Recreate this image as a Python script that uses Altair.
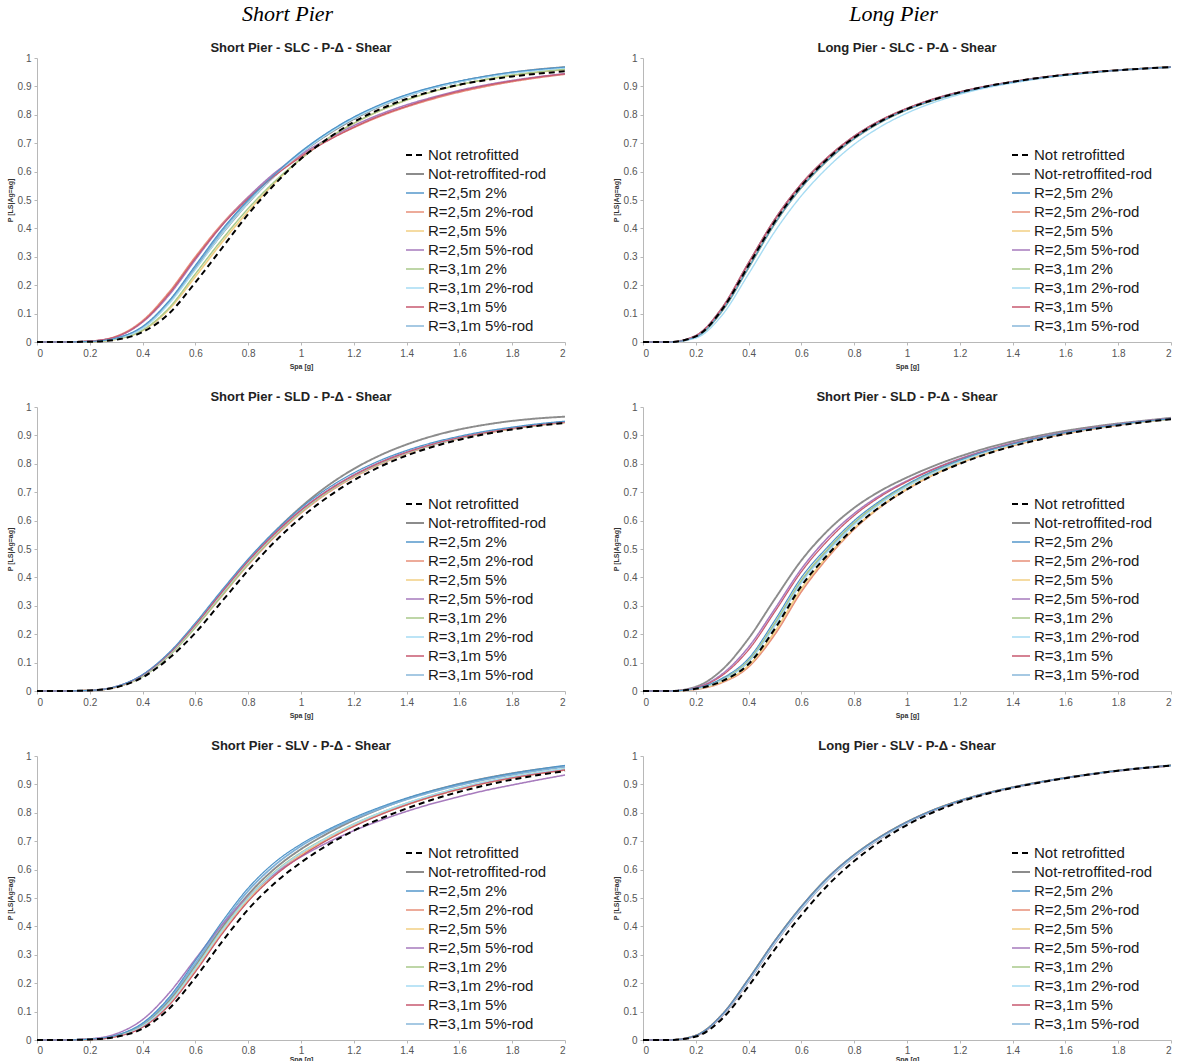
import altair as alt
import pandas as pd

X = [0.0, 0.1, 0.2, 0.3, 0.4, 0.5, 0.6, 0.7, 0.8, 0.9, 1.0,
     1.1, 1.2, 1.3, 1.4, 1.5, 1.6, 1.7, 1.8, 1.9, 2.0]
XTICKS = [0, 0.2, 0.4, 0.6, 0.8, 1, 1.2, 1.4, 1.6, 1.8, 2]
YTICKS = [0, 0.1, 0.2, 0.3, 0.4, 0.5, 0.6, 0.7, 0.8, 0.9, 1]

SERIES = ["Not retrofitted", "Not-retroffited-rod", "R=2,5m 2%", "R=2,5m 2%-rod",
          "R=2,5m 5%", "R=2,5m 5%-rod", "R=3,1m 2%", "R=3,1m 2%-rod",
          "R=3,1m 5%", "R=3,1m 5%-rod"]
COLORS = ["#000000", "#8c8c8c", "#7fb1d8", "#e8907a", "#f2cf84", "#a77bbd",
          "#a9c98a", "#a6dcf3", "#c85a70", "#4f94c8"]
DASHES = [[6, 4]] + [[1, 0]] * 9
WIDTHS = [2.0] + [1.2] * 9

TITLES = ["Short Pier - SLC - P-\u0394 - Shear", "Long Pier - SLC - P-\u0394 - Shear",
          "Short Pier - SLD - P-\u0394 - Shear", "Short Pier - SLD - P-\u0394 - Shear",
          "Short Pier - SLV - P-\u0394 - Shear", "Long Pier - SLV - P-\u0394 - Shear"]

# ---- Panel A: Short Pier SLC ----
A_NR  = [0,0,0.001,0.008,0.035,0.100,0.210,0.330,0.450,0.555,0.645,0.715,0.775,0.820,0.856,0.884,0.906,0.922,0.935,0.945,0.953]
A_NRR = [0,0,0.002,0.013,0.050,0.140,0.260,0.380,0.490,0.585,0.665,0.730,0.785,0.830,0.866,0.895,0.917,0.935,0.949,0.960,0.968]
A_A2  = [0,0,0.002,0.014,0.052,0.142,0.265,0.390,0.500,0.590,0.670,0.735,0.790,0.833,0.868,0.896,0.917,0.934,0.948,0.958,0.966]
A_A2R = [0,0,0.003,0.020,0.075,0.175,0.300,0.415,0.510,0.590,0.655,0.710,0.755,0.795,0.828,0.856,0.880,0.900,0.917,0.931,0.943]
A_A5  = [0,0,0.001,0.010,0.040,0.115,0.230,0.350,0.460,0.560,0.645,0.715,0.770,0.815,0.852,0.882,0.905,0.924,0.938,0.950,0.959]
A_A5R = [0,0,0.003,0.018,0.070,0.165,0.290,0.410,0.510,0.595,0.660,0.715,0.762,0.802,0.835,0.862,0.886,0.905,0.921,0.934,0.945]
A_B2  = [0,0,0.001,0.010,0.042,0.120,0.240,0.360,0.470,0.565,0.645,0.715,0.770,0.815,0.852,0.882,0.906,0.925,0.940,0.951,0.960]
A_B2R = [0,0,0.002,0.012,0.048,0.135,0.255,0.380,0.490,0.585,0.665,0.732,0.787,0.831,0.866,0.894,0.916,0.933,0.947,0.957,0.965]
A_B5  = [0,0,0.003,0.019,0.072,0.170,0.295,0.410,0.505,0.585,0.652,0.708,0.756,0.797,0.830,0.859,0.883,0.903,0.919,0.933,0.944]
A_B5R = [0,0,0.002,0.014,0.055,0.145,0.270,0.395,0.500,0.590,0.670,0.737,0.792,0.836,0.871,0.898,0.919,0.936,0.950,0.960,0.968]

# ---- Panel B: Long Pier SLC ----
B_NR  = [0,0,0.020,0.115,0.270,0.425,0.550,0.645,0.720,0.777,0.820,0.853,0.879,0.900,0.916,0.930,0.941,0.950,0.957,0.963,0.968]
B_C1  = [0,0,0.022,0.120,0.278,0.432,0.556,0.650,0.724,0.780,0.822,0.855,0.880,0.900,0.916,0.930,0.941,0.950,0.957,0.963,0.968]
B_C2  = [0,0,0.018,0.110,0.262,0.418,0.544,0.640,0.716,0.774,0.818,0.851,0.877,0.898,0.915,0.929,0.940,0.949,0.957,0.963,0.968]
B_LOW = [0,0,0.014,0.095,0.240,0.390,0.515,0.615,0.696,0.758,0.806,0.843,0.872,0.895,0.912,0.927,0.939,0.949,0.956,0.962,0.967]

# ---- Panel C: Short Pier SLD (left) ----
C_NR  = [0,0,0.002,0.013,0.048,0.115,0.205,0.315,0.425,0.525,0.610,0.682,0.742,0.790,0.829,0.860,0.885,0.905,0.921,0.934,0.944]
C_NRR = [0,0,0.002,0.015,0.055,0.130,0.230,0.345,0.460,0.560,0.648,0.722,0.782,0.830,0.868,0.898,0.921,0.938,0.951,0.960,0.966]
C_A2  = [0,0,0.002,0.015,0.055,0.130,0.230,0.345,0.455,0.552,0.635,0.703,0.758,0.803,0.839,0.868,0.891,0.910,0.925,0.937,0.947]
C_A2R = [0,0,0.002,0.014,0.052,0.125,0.225,0.335,0.445,0.543,0.627,0.697,0.753,0.799,0.836,0.866,0.889,0.908,0.923,0.936,0.946]
C_A5  = [0,0,0.002,0.014,0.053,0.127,0.228,0.340,0.450,0.548,0.630,0.700,0.756,0.801,0.838,0.867,0.890,0.909,0.924,0.936,0.946]
C_A5R = [0,0,0.002,0.016,0.057,0.133,0.235,0.350,0.460,0.556,0.638,0.706,0.761,0.806,0.842,0.870,0.893,0.911,0.926,0.938,0.948]
C_B2  = [0,0,0.002,0.014,0.051,0.124,0.224,0.336,0.447,0.546,0.630,0.700,0.756,0.801,0.838,0.867,0.890,0.909,0.924,0.936,0.946]
C_B2R = [0,0,0.002,0.015,0.054,0.129,0.231,0.344,0.454,0.551,0.634,0.703,0.758,0.803,0.839,0.868,0.891,0.910,0.925,0.937,0.947]
C_B5  = [0,0,0.002,0.015,0.056,0.131,0.233,0.347,0.457,0.553,0.636,0.704,0.759,0.804,0.840,0.869,0.892,0.910,0.925,0.937,0.947]
C_B5R = [0,0,0.002,0.016,0.058,0.135,0.240,0.355,0.465,0.562,0.645,0.713,0.768,0.812,0.847,0.875,0.897,0.915,0.929,0.941,0.950]

# ---- Panel D: Short Pier SLD (right) ----
D_NR  = [0,0,0.008,0.035,0.095,0.220,0.370,0.480,0.575,0.650,0.710,0.760,0.800,0.834,0.862,0.885,0.905,0.921,0.935,0.947,0.957]
D_NRR = [0,0,0.015,0.075,0.185,0.325,0.460,0.565,0.645,0.705,0.752,0.792,0.826,0.855,0.879,0.899,0.916,0.930,0.942,0.952,0.962]
D_A2  = [0,0,0.009,0.040,0.105,0.235,0.385,0.495,0.590,0.663,0.722,0.770,0.809,0.842,0.868,0.890,0.909,0.924,0.938,0.949,0.958]
D_A2R = [0,0,0.006,0.030,0.085,0.200,0.350,0.470,0.570,0.648,0.710,0.761,0.802,0.836,0.864,0.887,0.906,0.922,0.936,0.948,0.958]
D_A5  = [0,0,0.007,0.033,0.090,0.210,0.360,0.476,0.573,0.650,0.712,0.762,0.803,0.837,0.865,0.888,0.907,0.923,0.937,0.948,0.958]
D_A5R = [0,0,0.012,0.060,0.155,0.290,0.430,0.540,0.625,0.690,0.740,0.782,0.818,0.848,0.873,0.894,0.912,0.927,0.940,0.951,0.960]
D_B2  = [0,0,0.009,0.041,0.108,0.240,0.390,0.500,0.593,0.666,0.724,0.772,0.811,0.843,0.869,0.891,0.910,0.925,0.938,0.949,0.958]
D_B2R = [0,0,0.008,0.038,0.102,0.230,0.380,0.490,0.585,0.660,0.720,0.768,0.808,0.841,0.868,0.890,0.909,0.924,0.938,0.949,0.958]
D_B5  = [0,0,0.011,0.055,0.145,0.280,0.420,0.530,0.618,0.685,0.737,0.780,0.816,0.846,0.871,0.892,0.910,0.926,0.939,0.950,0.959]
D_B5R = [0,0,0.010,0.045,0.115,0.250,0.400,0.508,0.600,0.671,0.728,0.775,0.813,0.845,0.870,0.892,0.910,0.925,0.939,0.950,0.959]

# ---- Panel E: Short Pier SLV ----
E_NR  = [0,0,0.002,0.011,0.040,0.110,0.220,0.345,0.460,0.552,0.625,0.686,0.737,0.779,0.815,0.847,0.874,0.897,0.917,0.933,0.947]
E_NRR = [0,0,0.002,0.014,0.052,0.138,0.262,0.395,0.512,0.603,0.672,0.727,0.774,0.814,0.849,0.878,0.902,0.922,0.939,0.953,0.964]
E_A2  = [0,0,0.003,0.016,0.057,0.145,0.270,0.405,0.525,0.615,0.683,0.735,0.778,0.815,0.847,0.874,0.897,0.917,0.934,0.949,0.962]
E_A2R = [0,0,0.002,0.013,0.048,0.128,0.248,0.380,0.495,0.585,0.652,0.707,0.755,0.795,0.829,0.858,0.883,0.905,0.923,0.938,0.951]
E_A5  = [0,0,0.002,0.013,0.047,0.125,0.245,0.377,0.492,0.582,0.650,0.706,0.754,0.794,0.828,0.858,0.883,0.905,0.923,0.938,0.951]
E_A5R = [0,0,0.004,0.022,0.072,0.165,0.285,0.405,0.505,0.585,0.645,0.695,0.737,0.773,0.805,0.833,0.857,0.879,0.898,0.916,0.933]
E_B2  = [0,0,0.002,0.014,0.050,0.132,0.255,0.387,0.502,0.592,0.660,0.714,0.761,0.800,0.834,0.863,0.888,0.909,0.927,0.942,0.955]
E_B2R = [0,0,0.002,0.013,0.049,0.130,0.252,0.384,0.500,0.590,0.658,0.713,0.760,0.800,0.834,0.863,0.888,0.909,0.927,0.942,0.955]
E_B5  = [0,0,0.002,0.012,0.045,0.122,0.240,0.372,0.488,0.578,0.647,0.704,0.752,0.793,0.828,0.858,0.883,0.905,0.923,0.938,0.951]
E_B5R = [0,0,0.003,0.017,0.060,0.150,0.280,0.415,0.535,0.625,0.690,0.740,0.783,0.820,0.852,0.879,0.902,0.922,0.939,0.954,0.967]

# ---- Panel F: Long Pier SLV ----
F_NR  = [0,0,0.012,0.075,0.190,0.320,0.440,0.545,0.630,0.700,0.757,0.802,0.838,0.866,0.888,0.906,0.922,0.936,0.948,0.958,0.966]
F_N1  = [0,0,0.016,0.090,0.215,0.350,0.470,0.572,0.652,0.716,0.768,0.810,0.843,0.869,0.890,0.908,0.923,0.937,0.949,0.959,0.967]
F_N2  = [0,0,0.015,0.086,0.208,0.342,0.462,0.565,0.646,0.711,0.764,0.807,0.841,0.868,0.889,0.907,0.923,0.936,0.948,0.958,0.966]

PANELS = [
    [A_NR, A_NRR, A_A2, A_A2R, A_A5, A_A5R, A_B2, A_B2R, A_B5, A_B5R],
    [B_NR, B_C1, B_C2, B_C1, B_C2, B_C1, B_C2, B_LOW, B_C1, B_C2],
    [C_NR, C_NRR, C_A2, C_A2R, C_A5, C_A5R, C_B2, C_B2R, C_B5, C_B5R],
    [D_NR, D_NRR, D_A2, D_A2R, D_A5, D_A5R, D_B2, D_B2R, D_B5, D_B5R],
    [E_NR, E_NRR, E_A2, E_A2R, E_A5, E_A5R, E_B2, E_B2R, E_B5, E_B5R],
    [F_NR, F_N2, F_N1, F_N2, F_N1, F_N2, F_N1, F_N2, F_N1, F_N1],
]

FONT = "Liberation Sans"
W, H = 528, 284


def panel(idx, bottom_row=False):
    rows = []
    for name, vals in zip(SERIES, PANELS[idx]):
        for xv, pv in zip(X, vals):
            rows.append({"x": xv, "p": pv, "series": name})
    df = pd.DataFrame(rows)
    leg = alt.Legend(title=None, orient="none", legendX=368, legendY=87,
                     symbolType="stroke", symbolSize=324, labelFontSize=15,
                     labelFont=FONT, labelColor="#1a1a1a", labelOffset=3,
                     rowPadding=1, padding=0, fillColor="white", labelLimit=300)
    xaxis = alt.Axis(values=XTICKS, format="~g", title="Spa [g]",
                     labelPadding=2 if bottom_row else 3,
                     titlePadding=0 if bottom_row else 4)
    enc = dict(
        x=alt.X("x:Q", scale=alt.Scale(domain=[0, 2], nice=False), axis=xaxis),
        y=alt.Y("p:Q", scale=alt.Scale(domain=[0, 1], nice=False),
                axis=alt.Axis(values=YTICKS, format="~g", title="P [LS|Ag=ag]")),
        color=alt.Color("series:N", scale=alt.Scale(domain=SERIES, range=COLORS),
                        sort=SERIES, legend=leg),
        strokeDash=alt.StrokeDash("series:N", scale=alt.Scale(domain=SERIES, range=DASHES),
                                  sort=SERIES, legend=leg),
        strokeWidth=alt.StrokeWidth("series:N", scale=alt.Scale(domain=SERIES, range=WIDTHS),
                                    sort=SERIES, legend=leg),
    )
    base = alt.Chart(df)
    lines = base.transform_filter(alt.datum.series != SERIES[0]).mark_line(interpolate="monotone").encode(**enc)
    dashed = base.transform_filter(alt.datum.series == SERIES[0]).mark_line(interpolate="monotone").encode(**enc)
    return alt.layer(lines, dashed).properties(
        width=W, height=H,
        title=alt.TitleParams(TITLES[idx], font=FONT, fontSize=13, fontWeight="bold",
                              color="#222222", anchor="middle", offset=-2),
    )


def column(indices, header):
    return alt.vconcat(panel(indices[0]), panel(indices[1]), panel(indices[2], bottom_row=True),
                       spacing=22).properties(
        title=alt.TitleParams(header, font="Liberation Serif", fontStyle="italic",
                              fontWeight="normal", fontSize=22, color="#000000",
                              anchor="middle", offset=16)
    ).resolve_scale(color="independent", strokeDash="independent", strokeWidth="independent")


chart = alt.hconcat(column([0, 2, 4], "Short Pier"), column([1, 3, 5], "Long Pier"), spacing=43).resolve_scale(
    color="independent", strokeDash="independent", strokeWidth="independent"
).properties(
    padding={"left": 6, "top": 3, "right": 0, "bottom": 0}
).configure_view(stroke=None).configure_axis(
    grid=False, domainColor="#b8b8b8", tickColor="#b8b8b8", labelColor="#555555",
    labelFont=FONT, labelFontSize=10, titleFont=FONT, titleFontSize=7,
    titleFontWeight="bold", titleColor="#333333", tickSize=3, labelPadding=3, titlePadding=4
).configure_legend(symbolStrokeColor="black")

chart.save("out.html", embed_options={"renderer": "svg", "actions": False})
